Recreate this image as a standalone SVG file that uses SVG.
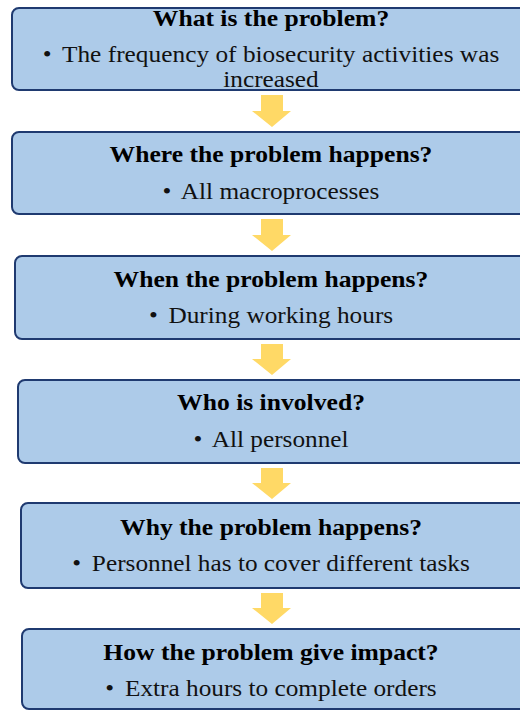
<svg xmlns="http://www.w3.org/2000/svg" width="520" height="711" viewBox="0 0 520 711">
<style>
.box{fill:#ADCBE9;stroke:#1F3A70;stroke-width:2}
.t{font-family:"Liberation Serif","Times New Roman",serif;font-size:23.5px;font-weight:bold;fill:#000;text-anchor:middle}
.b{font-family:"Liberation Serif","Times New Roman",serif;font-size:23px;fill:#111;text-anchor:middle}
.arr{fill:#FFD966}
</style>
<rect width="520" height="711" fill="#fff"/>
<g id="connectors">
<polygon class="arr" points="261,95 283,95 283,111 291,111 272,127 252,111 261,111"/>
<polygon class="arr" points="261,219 283,219 283,235 291,235 272,251 252,235 261,235"/>
<polygon class="arr" points="261,344 283,344 283,359 291,359 272,375 252,359 261,359"/>
<polygon class="arr" points="261,468 283,468 283,483 291,483 272,499 252,483 261,483"/>
<polygon class="arr" points="261,593 283,593 283,608 291,608 272,624 252,608 261,608"/>
</g>
<g id="n1">
<rect class="box" x="12" y="8" width="530" height="82" rx="7"/>
<text class="t" transform="matrix(1.09,0,0,1,271,26)">What is the problem?</text>
<text class="b" transform="matrix(1.1,0,0,1,271,62)" textLength="415" lengthAdjust="spacing">•<tspan dx="4"> The frequency of biosecurity activities was</tspan></text>
<text class="b" transform="matrix(1.1,0,0,1,271,87)">increased</text>
</g>
<g id="n2">
<rect class="box" x="12" y="132" width="530" height="82" rx="7"/>
<text class="t" transform="matrix(1.09,0,0,1,271,162)">Where the problem happens?</text>
<text class="b" transform="matrix(1.1,0,0,1,271,199)">•<tspan dx="4"> All macroprocesses</tspan></text>
</g>
<g id="n3">
<rect class="box" x="15" y="256" width="530" height="83" rx="7"/>
<text class="t" transform="matrix(1.09,0,0,1,271,287)">When the problem happens?</text>
<text class="b" transform="matrix(1.1,0,0,1,271,323)">•<tspan dx="4"> During working hours</tspan></text>
</g>
<g id="n4">
<rect class="box" x="18" y="380" width="530" height="83" rx="7"/>
<text class="t" transform="matrix(1.09,0,0,1,271,410)">Who is involved?</text>
<text class="b" transform="matrix(1.1,0,0,1,271,447)">•<tspan dx="4"> All personnel</tspan></text>
</g>
<g id="n5">
<rect class="box" x="21" y="503" width="530" height="85" rx="7"/>
<text class="t" transform="matrix(1.09,0,0,1,271,535)">Why the problem happens?</text>
<text class="b" transform="matrix(1.1,0,0,1,271,571)">•<tspan dx="4"> Personnel has to cover different tasks</tspan></text>
</g>
<g id="n6">
<rect class="box" x="22" y="629" width="530" height="80" rx="7"/>
<text class="t" transform="matrix(1.09,0,0,1,271,660)">How the problem give impact?</text>
<text class="b" transform="matrix(1.1,0,0,1,271,696)">•<tspan dx="4"> Extra hours to complete orders</tspan></text>
</g>
</svg>
